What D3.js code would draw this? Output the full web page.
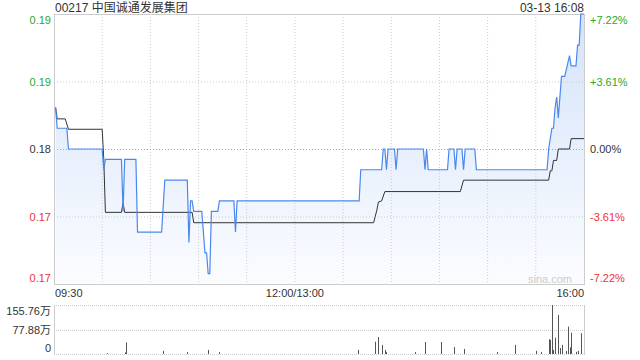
<!DOCTYPE html>
<meta charset="utf-8">
<head>
  <style>
    body { margin: 0; background: #fff; }
    svg text { font-family: "Liberation Sans", Arial, "Noto Sans CJK SC", sans-serif; }
  </style>
</head>
<body>
  <script src="https://d3js.org/d3.v7.min.js"></script>
  <script>
    // price line: minute since 09:30 (lunch removed) and price
    var priceMin = [1, 2, 8, 9, 30, 31, 32, 41, 42, 43, 44, 51, 52, 67, 69, 83, 84, 85, 86, 87, 92, 94, 95, 96, 97, 98,
      102, 103, 112, 113, 114, 190, 191, 204, 205, 206, 207, 208, 212, 213, 214, 230, 231, 232, 233, 245, 246, 249, 250, 251,
      254, 255, 256, 262, 263, 307, 308, 309, 310, 311, 312, 313, 314, 316, 318, 321, 322, 325, 326, 327, 328, 330];
    var priceVal = [0.184, 0.182, 0.182, 0.180, 0.180, 0.178, 0.179, 0.179, 0.179, 0.174, 0.179, 0.179, 0.172, 0.172, 0.177, 0.177, 0.171, 0.175, 0.175, 0.174, 0.174, 0.170, 0.170, 0.168, 0.168, 0.174,
      0.174, 0.175, 0.175, 0.172, 0.175, 0.175, 0.178, 0.178, 0.180, 0.180, 0.178, 0.180, 0.180, 0.178, 0.180, 0.180, 0.178, 0.180, 0.178, 0.178, 0.180, 0.180, 0.178, 0.180,
      0.180, 0.178, 0.180, 0.180, 0.178, 0.178, 0.180, 0.181, 0.182, 0.182, 0.184, 0.185, 0.183, 0.187, 0.187, 0.189, 0.188, 0.188, 0.190, 0.190, 0.193, 0.193];

    // average price line
    var avgMin = [1, 2, 7, 9, 30, 31, 32, 42, 43, 44, 86, 87, 199, 200, 201, 202, 204, 206, 253, 255, 308, 309, 310, 311, 313, 314, 321, 322, 330];
    var avgVal = [0.184, 0.1829, 0.1829, 0.1819, 0.1819, 0.1790, 0.1739, 0.1739, 0.1748, 0.1739, 0.1739, 0.1729, 0.1729, 0.1735, 0.1741, 0.1749, 0.1750, 0.1759, 0.1759, 0.1770, 0.1770, 0.1779, 0.1779, 0.1789, 0.1789, 0.1800, 0.1800, 0.1810, 0.1810];

    // volume bars (万)
    var volMin = [33, 44, 45, 68, 83, 96, 103, 189, 200, 202, 204, 206, 207, 225, 231, 241, 249, 255, 276, 287, 300, 303,
      308, 309, 310, 311, 312, 314, 315, 316, 319, 320, 321, 322, 325, 326, 328];
    var volVal = [3, 5, 37, 10, 6, 13, 6, 13, 39, 54, 29, 13, 6, 6, 38, 38, 22, 16, 6, 29, 10, 6,
      47, 45, 155.76, 13, 52, 124, 19, 29, 10, 87, 21, 68, 7, 10, 66];

    var prevClose = 0.180;
    var priceTicks = [0.193, 0.1865, 0.180, 0.1735, 0.167];
    var priceLabels = ["0.19", "0.19", "0.18", "0.17", "0.17"];
    var pctLabels = ["+7.22%", "+3.61%", "0.00%", "-3.61%", "-7.22%"];
    var volTicks = [155.76, 77.88, 0];
    var volLabels = ["155.76万", "77.88万", "0"];
    var timeTicks = [0, 150, 330];
    var timeLabels = ["09:30", "12:00/13:00", "16:00"];

    var green = "#2ba82b", red = "#ee3333", dark = "#333";

    var svg = d3.select("body").append("svg")
      .attr("width", 640)
      .attr("height", 360);

    var x = d3.scaleLinear().domain([0, 330]).range([54, 584]);
    var y = d3.scaleLinear().domain([0.167, 0.193]).range([284, 14]);
    var yv = d3.scaleLinear().domain([0, 155.76]).range([354, 305]);

    // gradient for area
    var grad = svg.append("defs").append("linearGradient")
      .attr("id", "fillgrad").attr("x1", 0).attr("y1", 0).attr("x2", 0).attr("y2", 1);
    grad.append("stop").attr("offset", "0%").attr("stop-color", "#d4e3fa");
    grad.append("stop").attr("offset", "100%").attr("stop-color", "#fbfcff");

    var pts = priceMin.map(function (m, i) { return [m, priceVal[i]]; });
    var avgPts = avgMin.map(function (m, i) { return [m, avgVal[i]]; });

    svg.append("path")
      .datum(pts)
      .attr("fill", "url(#fillgrad)")
      .attr("d", d3.area().x(d => x(d[0])).y0(284).y1(d => y(d[1])));

    // vertical grid
    svg.append("g").selectAll("line")
      .data(d3.range(30, 330, 30))
      .enter().append("line")
      .attr("x1", d => x(d)).attr("x2", d => x(d))
      .attr("y1", 14).attr("y2", 284)
      .attr("stroke", "#ccc").attr("stroke-dasharray", "1,2");

    // horizontal grid
    svg.append("g").selectAll("line")
      .data(priceTicks.slice(1, 4))
      .enter().append("line")
      .attr("x1", 54).attr("x2", 584)
      .attr("y1", d => y(d) + 0.5).attr("y2", d => y(d) + 0.5)
      .attr("stroke", d => d == prevClose ? "#aaa" : "#ccc")
      .attr("stroke-dasharray", "1,2");

    // frame
    svg.append("rect")
      .attr("x", 54.5).attr("y", 14.5).attr("width", 530).attr("height", 270)
      .attr("fill", "none").attr("stroke", "#ccc");

    svg.append("text")
      .attr("x", 572).attr("y", 283)
      .attr("text-anchor", "end")
      .style("font-size", "11px").attr("fill", "#ccc")
      .text("sina.com");

    svg.append("path")
      .datum(avgPts)
      .attr("fill", "none").attr("stroke", dark).attr("stroke-width", 1)
      .attr("d", d3.line().x(d => x(d[0])).y(d => y(d[1])));

    svg.append("path")
      .datum(pts)
      .attr("fill", "none").attr("stroke", "#4a88ee").attr("stroke-width", 1.2)
      .attr("d", d3.line().x(d => x(d[0])).y(d => y(d[1])));

    function tickColor(i) { return i < 2 ? green : (i == 2 ? dark : red); }
    function labelY(i) { return y(priceTicks[i]) + (i == 0 ? 6 : (i == 4 ? -6 : 0)) + 4; }

    svg.append("g").selectAll("text")
      .data(priceLabels)
      .enter().append("text")
      .attr("x", 51).attr("y", (d, i) => labelY(i))
      .attr("text-anchor", "end")
      .style("font-size", "11px")
      .attr("fill", (d, i) => tickColor(i))
      .text(d => d);

    svg.append("g").selectAll("text")
      .data(pctLabels)
      .enter().append("text")
      .attr("x", 590).attr("y", (d, i) => labelY(i))
      .style("font-size", "11px")
      .attr("fill", (d, i) => tickColor(i))
      .text(d => d);

    svg.append("text")
      .attr("x", 55).attr("y", 12)
      .style("font-size", "12px").attr("fill", dark)
      .text("00217 中国诚通发展集团");

    svg.append("text")
      .attr("x", 584).attr("y", 12)
      .attr("text-anchor", "end")
      .style("font-size", "12px").attr("fill", dark)
      .text("03-13 16:08");

    svg.append("g").selectAll("text")
      .data(timeLabels)
      .enter().append("text")
      .attr("x", (d, i) => x(timeTicks[i]) + (i == 0 ? 1 : 0))
      .attr("y", 297)
      .attr("text-anchor", (d, i) => ["start", "middle", "end"][i])
      .style("font-size", "11px").attr("fill", dark)
      .text(d => d);

    // volume panel
    svg.append("g").selectAll("line")
      .data(volTicks)
      .enter().append("line")
      .attr("x1", 54).attr("x2", 584)
      .attr("y1", d => Math.round(yv(d)) + 0.5).attr("y2", d => Math.round(yv(d)) + 0.5)
      .attr("stroke", "#ccc").attr("stroke-dasharray", "1,1");

    svg.append("line")
      .attr("x1", 54.5).attr("x2", 54.5).attr("y1", 305).attr("y2", 355)
      .attr("stroke", "#ccc");
    svg.append("line")
      .attr("x1", 584.5).attr("x2", 584.5).attr("y1", 305).attr("y2", 355)
      .attr("stroke", "#ccc");

    svg.append("g").selectAll("line")
      .data(volMin)
      .enter().append("line")
      .attr("x1", d => Math.round(x(d)) + 0.5).attr("x2", d => Math.round(x(d)) + 0.5)
      .attr("y1", 354).attr("y2", (d, i) => yv(volVal[i]))
      .attr("stroke", "#555").attr("stroke-width", 1);

    svg.append("g").selectAll("text")
      .data(volLabels)
      .enter().append("text")
      .attr("x", 51)
      .attr("y", (d, i) => yv(volTicks[i]) + (i == 0 ? 6 : (i == 2 ? -6 : 0)) + 4)
      .attr("text-anchor", "end")
      .style("font-size", "11px").attr("fill", dark)
      .text(d => d);
  </script>
</body>
